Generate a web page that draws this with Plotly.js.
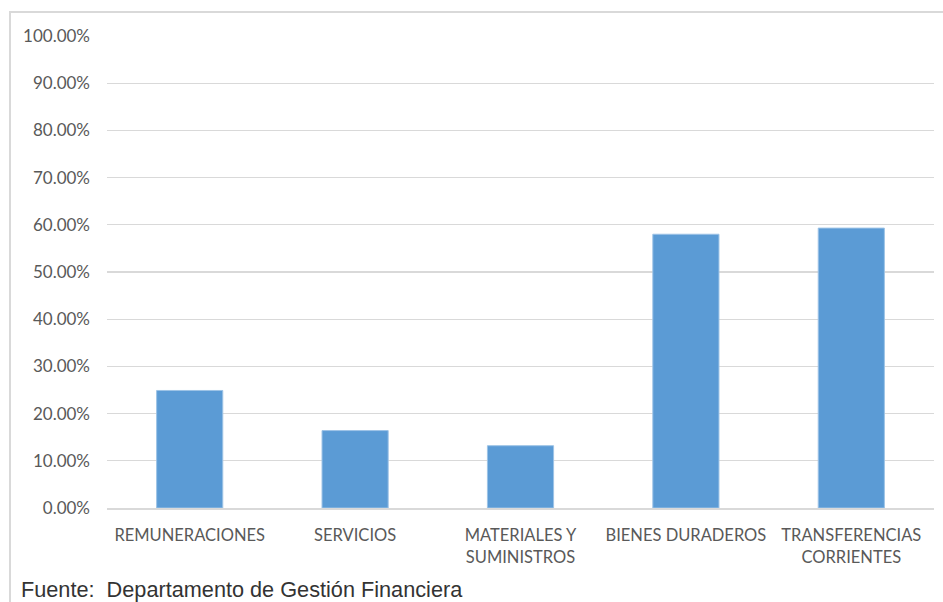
<!DOCTYPE html>
<html>
<head>
<meta charset="utf-8">
<script src="https://cdn.plot.ly/plotly-3.0.1.min.js"></script>
<style>
  html, body { margin: 0; padding: 0; background: #fff; }
  #wrap { position: relative; width: 943px; height: 602px; overflow: hidden; }
  #chart { width: 943px; height: 602px; }
  #frame { position: absolute; left: 9px; top: 11px; width: 960px; height: 620px;
           border-left: 2px solid #d9d9d9; border-top: 2px solid #d9d9d9; pointer-events: none; }
</style>
</head>
<body>
<div id="wrap">
  <div id="chart"></div>
  <div id="frame"></div>
</div>
<script>
const categories = ['REMUNERACIONES', 'SERVICIOS', 'MATERIALES Y<br>SUMINISTROS', 'BIENES DURADEROS', 'TRANSFERENCIAS<br>CORRIENTES'];
const values = [0.249, 0.164, 0.132, 0.580, 0.593];
const yTicks = [0, 0.1, 0.2, 0.3, 0.4, 0.5, 0.6, 0.7, 0.8, 0.9, 1.0];
const footer = 'Fuente:  Departamento de Gestión Financiera';

const trace = {
  type: 'bar',
  x: categories,
  y: values,
  marker: { color: '#5b9bd5', line: { color: '#9dc3e6', width: 1 } },
  hoverinfo: 'none'
};

const layout = {
  width: 943, height: 602,
  margin: { l: 107, r: 9, t: 36, b: 93.5 },
  paper_bgcolor: '#ffffff',
  plot_bgcolor: '#ffffff',
  bargap: 0.6,
  showlegend: false,
  font: { family: 'Lato, "Open Sans", sans-serif', color: '#595959', size: 16 },
  xaxis: {
    type: 'category',
    showgrid: false,
    zeroline: false,
    showline: true,
    linecolor: '#d9d9d9',
    linewidth: 1.5,
    ticks: '',
    ticklabelstandoff: 12,
    tickfont: { size: 16.5, color: '#595959', family: 'Lato, "Open Sans", sans-serif' }
  },
  yaxis: {
    range: [0, 1],
    tickvals: yTicks,
    tickformat: '.2%',
    showgrid: true,
    gridcolor: '#d9d9d9',
    gridwidth: 1.2,
    zeroline: false,
    showline: false,
    ticks: '',
    ticklabelstandoff: 16,
    tickfont: { size: 17, color: '#595959', family: 'Lato, "Open Sans", sans-serif' }
  },
  annotations: [{
    text: footer,
    xref: 'paper', yref: 'paper',
    x: (19 - 107) / 827, y: (508.5 - 590) / 472.5,
    xanchor: 'left', yanchor: 'middle',
    showarrow: false,
    font: { family: '"Liberation Sans", Arial, sans-serif', size: 21.7, color: '#333333' }
  }]
};

Plotly.newPlot('chart', [trace], layout, { staticPlot: true, displayModeBar: false });
</script>
</body>
</html>
